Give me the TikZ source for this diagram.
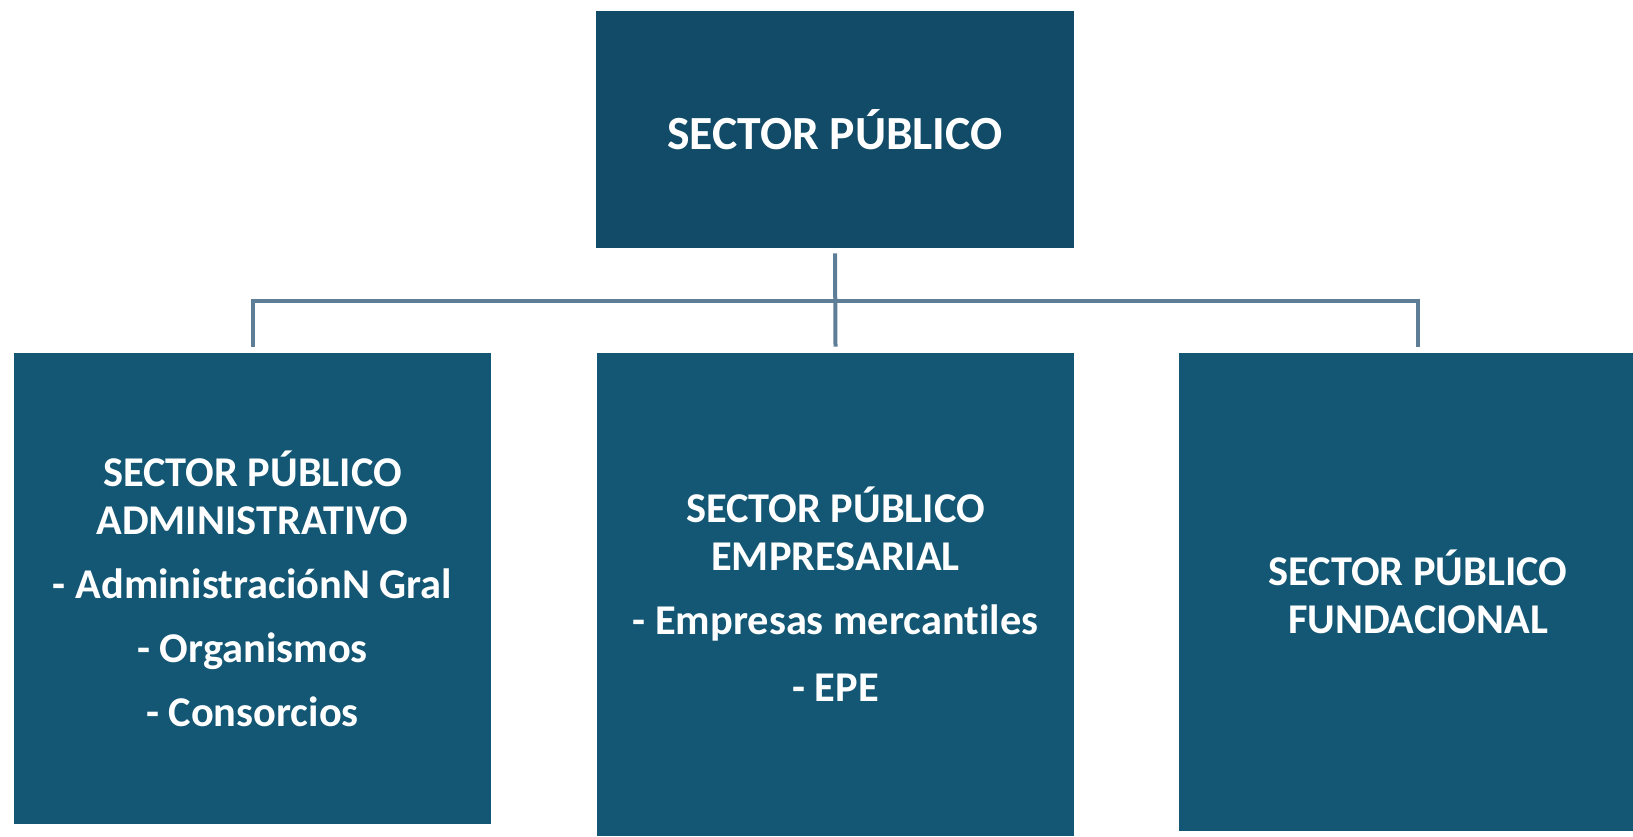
\documentclass[tikz,border=0pt]{standalone}
\usepackage{fontspec}
\setmainfont{Carlito}[Ligatures=NoCommon]
\usetikzlibrary{positioning}
\definecolor{topBlue}{RGB}{17,75,103}
\definecolor{boxBlue}{RGB}{19,87,116}
\definecolor{lineGray}{RGB}{94,125,150}
\begin{document}
\begin{tikzpicture}[x=0.75pt,y=-0.75pt,
                sector/.style={fill=boxBlue,text=white,align=center,inner sep=0pt,
                              font=\bfseries\fontsize{31.8}{36}\selectfont,minimum width=357.75pt},
                link/.style={draw=lineGray,line width=3pt}
            ]
                \useasboundingbox (0,0) rectangle (1633,836);
                \clip (0,0) rectangle (1633,836);
                \node[sector,fill=topBlue,minimum width=358.5pt,minimum height=177.75pt,
                      font=\bfseries\fontsize{35.7}{40}\selectfont] (sp) at (835,129.5) {SECTOR PÚBLICO};
                \node[sector,minimum height=353.25pt] (adm) at (252.5,588.5)
                    {SECTOR PÚBLICO\\ADMINISTRATIVO\\[12pt]- AdministraciónN Gral\\[12pt]- Organismos\\[12pt]- Consorcios};
                \node[sector,minimum height=362.25pt] (emp) at (835.5,594.5)
                    {SECTOR PÚBLICO\\EMPRESARIAL\\[12pt]- Empresas mercantiles\\[14pt]- EPE};
                \node[sector,minimum width=358.5pt,minimum height=358.5pt] (fun) at (1418,592)
                    {SECTOR PÚBLICO\\FUNDACIONAL};
                \coordinate (hub) at (835,301);
                \draw[link] ([yshift=-3.75pt]sp.south) -- ([yshift=4.5pt]emp.north);
                \draw[link] ([yshift=4.5pt]adm.north) |- (hub) -| ([yshift=4.5pt]fun.north);
            \end{tikzpicture}
\end{document}
